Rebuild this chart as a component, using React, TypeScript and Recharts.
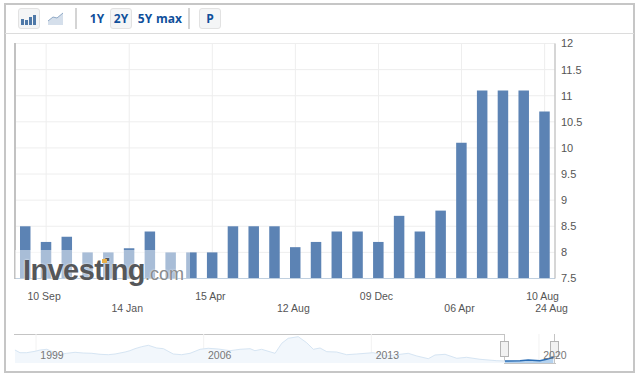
import React from 'react';
import { BarChart, Bar, XAxis, YAxis, CartesianGrid, ComposedChart, Area, Line } from 'recharts';

const dates = ['03 Sep', '10 Sep', '24 Sep', '08 Oct', '22 Oct', '14 Jan', '28 Jan', '11 Feb', '25 Feb', '15 Apr', '29 Apr', '13 May', '27 May', '12 Aug', '26 Aug', '09 Sep', '23 Sep', '09 Dec', '23 Dec', '06 Jan', '20 Jan', '06 Apr', '20 Apr', '04 May', '18 May', '10 Aug'];
const rates = [8.5, 8.2, 8.3, 8.0, 8.0, 8.08, 8.4, 8.0, 8.0, 8.0, 8.5, 8.5, 8.5, 8.1, 8.2, 8.4, 8.4, 8.2, 8.7, 8.4, 8.8, 10.1, 11.1, 11.1, 11.1, 10.7];
const rateTicks = [7.5, 8, 8.5, 9, 9.5, 10, 10.5, 11, 11.5, 12];
const labelledDates = ['10 Sep', '14 Jan', '15 Apr', '12 Aug', '09 Dec', '06 Apr', '10 Aug'];
const lastDateLabel = '24 Aug';

const navYears = [1998.12, 1998.33, 1998.61, 1998.96, 1999.17, 1999.45, 1999.65, 1999.93, 2000.28, 2000.63, 2000.97, 2001.33, 2001.67, 2002.02, 2002.3, 2002.72, 2002.92, 2003.13, 2003.41, 2003.69, 2004.04, 2004.32, 2004.73, 2005.08, 2005.43, 2005.85, 2006.19, 2006.61, 2007.1, 2007.52, 2007.94, 2008.14, 2008.42, 2008.98, 2009.26, 2009.53, 2009.95, 2010.3, 2010.58, 2010.86, 2011.14, 2011.55, 2011.97, 2012.39, 2013.08, 2013.64, 2014.54, 2014.9, 2015.38, 2015.66, 2016.08, 2016.57, 2016.98, 2017.54, 2018.24, 2018.58, 2019.21, 2019.55, 2020.04, 2020.32, 2020.6];
const navLevels = [13, 10.3, 10.3, 11.7, 13, 13.7, 11.7, 8.3, 9.7, 10.7, 10, 9.7, 8.7, 8.3, 9, 11, 12.3, 14.3, 16.3, 17.7, 15, 14.3, 9, 8.3, 9.7, 13.7, 14.7, 14, 12.3, 13.7, 14.3, 12.3, 13.7, 9.7, 19.7, 24.7, 26.3, 20.3, 13.7, 15, 11.3, 11, 8.3, 9, 10.3, 7, 9.7, 7, 4.3, 8, 8.7, 4.7, 5.7, 3.7, 2.3, 2, 2.3, 3, 2.3, 3.7, 5.7];
const navYearTicks = [1999, 2006, 2013, 2020];
const selectionStart = 2018.58;

const barData = dates.map((date, i) => ({ date, rate: rates[i] }));
const navData = navYears.map((year, i) => ({
  year,
  past: year <= selectionStart ? navLevels[i] : null,
  recent: year >= selectionStart ? navLevels[i] : null,
}));

const FONT = '"Liberation Sans", Arial, sans-serif';

const DateTick = ({ x, y, payload, index }: any) => {
  const row = index % 2 === 0 ? 13 : 25;
  const isLast = payload.value === '10 Aug';
  return (
    <g>
      <text x={x - 2} y={y + row} textAnchor="middle" fontSize={10.5} fill="#555" fontFamily={FONT}>{payload.value}</text>
      {isLast && <text x={x + 7} y={y + 25} textAnchor="middle" fontSize={10.5} fill="#555" fontFamily={FONT}>{lastDateLabel}</text>}
    </g>
  );
};

const YearTick = ({ x, y, payload }: any) => (
  <text x={x + 16} y={y - 12} textAnchor="middle" fontSize={10.5} fill="#777" fontFamily={FONT}>{payload.value}</text>
);

const box = (left: number, top: number, width: number, height: number, style: React.CSSProperties = {}): React.CSSProperties => ({
  position: 'absolute', left, top, width, height, boxSizing: 'border-box', ...style,
});

const toolText = (center: number, label: string) => (
  <div key={label} style={box(center - 20, 11, 40, 16, { textAlign: 'center', fontFamily: '"Open Sans", sans-serif', fontWeight: 700, fontSize: 12, lineHeight: '16px', color: '#0f4f9b' })}>{label}</div>
);

const toolButton = (left: number, width: number) => (
  <div style={box(left, 8, width, 21, { background: '#f4f5f6', border: '1px solid #e2e2e2', borderRadius: 3 })} />
);

const App: React.FC = () => (
  <div style={box(0, 0, 640, 377, { background: '#fff', overflow: 'hidden' })}>
    <div style={box(4, 3, 631, 370, { border: '2px solid #c6c6c6' })} />
    <div style={box(5, 33, 629, 1, { background: '#dcdcdc' })} />

    {toolButton(18, 22)}
    <svg style={box(20, 12, 18, 14)} viewBox="0 0 18 14">
      <rect x="1" y="7" width="3" height="6" fill="#4f79a8" />
      <rect x="5" y="8" width="3" height="5" fill="#4f79a8" />
      <rect x="9" y="5" width="3" height="8" fill="#4f79a8" />
      <rect x="13" y="3" width="3" height="10" fill="#4f79a8" />
    </svg>
    <svg style={box(47, 12, 17, 14)} viewBox="0 0 17 14">
      <path d="M1 9 L6 5 L10 6 L16 1 L16 13 L1 13 Z" fill="#d5dfeb" />
      <path d="M1 9 L6 5 L10 6 L16 1" fill="none" stroke="#8fa9c6" strokeWidth="1" />
    </svg>
    <div style={box(75, 8, 2, 21, { background: '#d4d4d4' })} />
    {toolButton(110, 22)}
    {toolText(97, '1Y')}
    {toolText(121, '2Y')}
    {toolText(145, '5Y')}
    {toolText(169, 'max')}
    <div style={box(188, 8, 2, 21, { background: '#d4d4d4' })} />
    {toolButton(199, 22)}
    {toolText(210, 'P')}

    <div style={{ position: 'absolute', left: 0, top: 0 }}>
      <BarChart width={640} height={320} data={barData} barCategoryGap={0} margin={{ top: 43.5, right: 0, bottom: 0, left: 15 }}>
        <CartesianGrid stroke="#eeeeee" strokeWidth={1} />
        <XAxis
          dataKey="date"
          ticks={labelledDates}
          interval={0}
          height={41.5}
          axisLine={{ stroke: '#c0d0e0' }}
          tickLine={false}
          tick={<DateTick />}
        />
        <YAxis
          orientation="right"
          width={85}
          domain={[7.5, 12]}
          ticks={rateTicks}
          interval={0}
          axisLine={{ stroke: '#b5b5b5' }}
          tickLine={false}
          tickMargin={0}
          tick={{ fontSize: 11, fill: '#555', fontFamily: FONT, textAnchor: 'start' }}
        />
        <Bar dataKey="rate" fill="#5c83b4" barSize={10.5} isAnimationActive={false} />
      </BarChart>
    </div>

    <div style={box(14, 43, 2, 236, { background: '#c2c2c2' })} />
    <div style={box(15, 250, 175, 28, { background: 'rgba(255,255,255,0.47)' })} />

    <div style={box(23, 250, 170, 40, { fontFamily: FONT, whiteSpace: 'nowrap', lineHeight: '40px', textShadow: '0 0 2px #fff' })}>
      <span style={{ fontSize: 29, fontWeight: 700, color: '#55575a', letterSpacing: -0.6 }}>Investing</span>
      <span style={{ fontSize: 18, color: '#8a8c8e' }}>.com</span>
    </div>
    <div style={box(102, 259, 5, 4, { background: '#e8b04a' })} />

    <div style={box(14, 334, 491, 1, { background: '#c4c4c4' })} />
    <div style={box(504, 334, 1, 30, { background: '#c4c4c4' })} />
    <div style={box(504, 363, 52, 1, { background: '#c4c4c4' })} />
    <div style={box(554, 334, 1, 30, { background: '#c4c4c4' })} />
    <div style={box(500, 341, 9, 16, { background: '#f2f2f2', border: '1px solid #b5b5b5' })} />
    <div style={box(550, 341, 9, 16, { background: '#f2f2f2', border: '1px solid #b5b5b5' })} />

    <div style={{ position: 'absolute', left: 0, top: 334 }}>
      <ComposedChart width={640} height={39} data={navData} margin={{ top: 0, right: 85, bottom: 9, left: 14 }}>
        <CartesianGrid stroke="#f2f2f2" horizontal={false} syncWithTicks />
        <XAxis
          dataKey="year"
          type="number"
          domain={[1998.08, 2020.67]}
          ticks={navYearTicks}
          height={1}
          axisLine={false}
          tickLine={false}
          tick={<YearTick />}
        />
        <YAxis hide domain={[0, 29]} />
        <Area dataKey="past" type="linear" stroke="#d6e5f3" strokeWidth={1} fill="#f2f7fc" fillOpacity={1} connectNulls={false} dot={false} isAnimationActive={false} />
        <Area dataKey="recent" type="linear" stroke="none" fill="#b5d2ee" fillOpacity={1} connectNulls={false} dot={false} isAnimationActive={false} />
        <Line dataKey="recent" type="linear" stroke="#2a6db5" strokeWidth={1.5} connectNulls={false} dot={false} isAnimationActive={false} />
      </ComposedChart>
    </div>
  </div>
);

export default App;
